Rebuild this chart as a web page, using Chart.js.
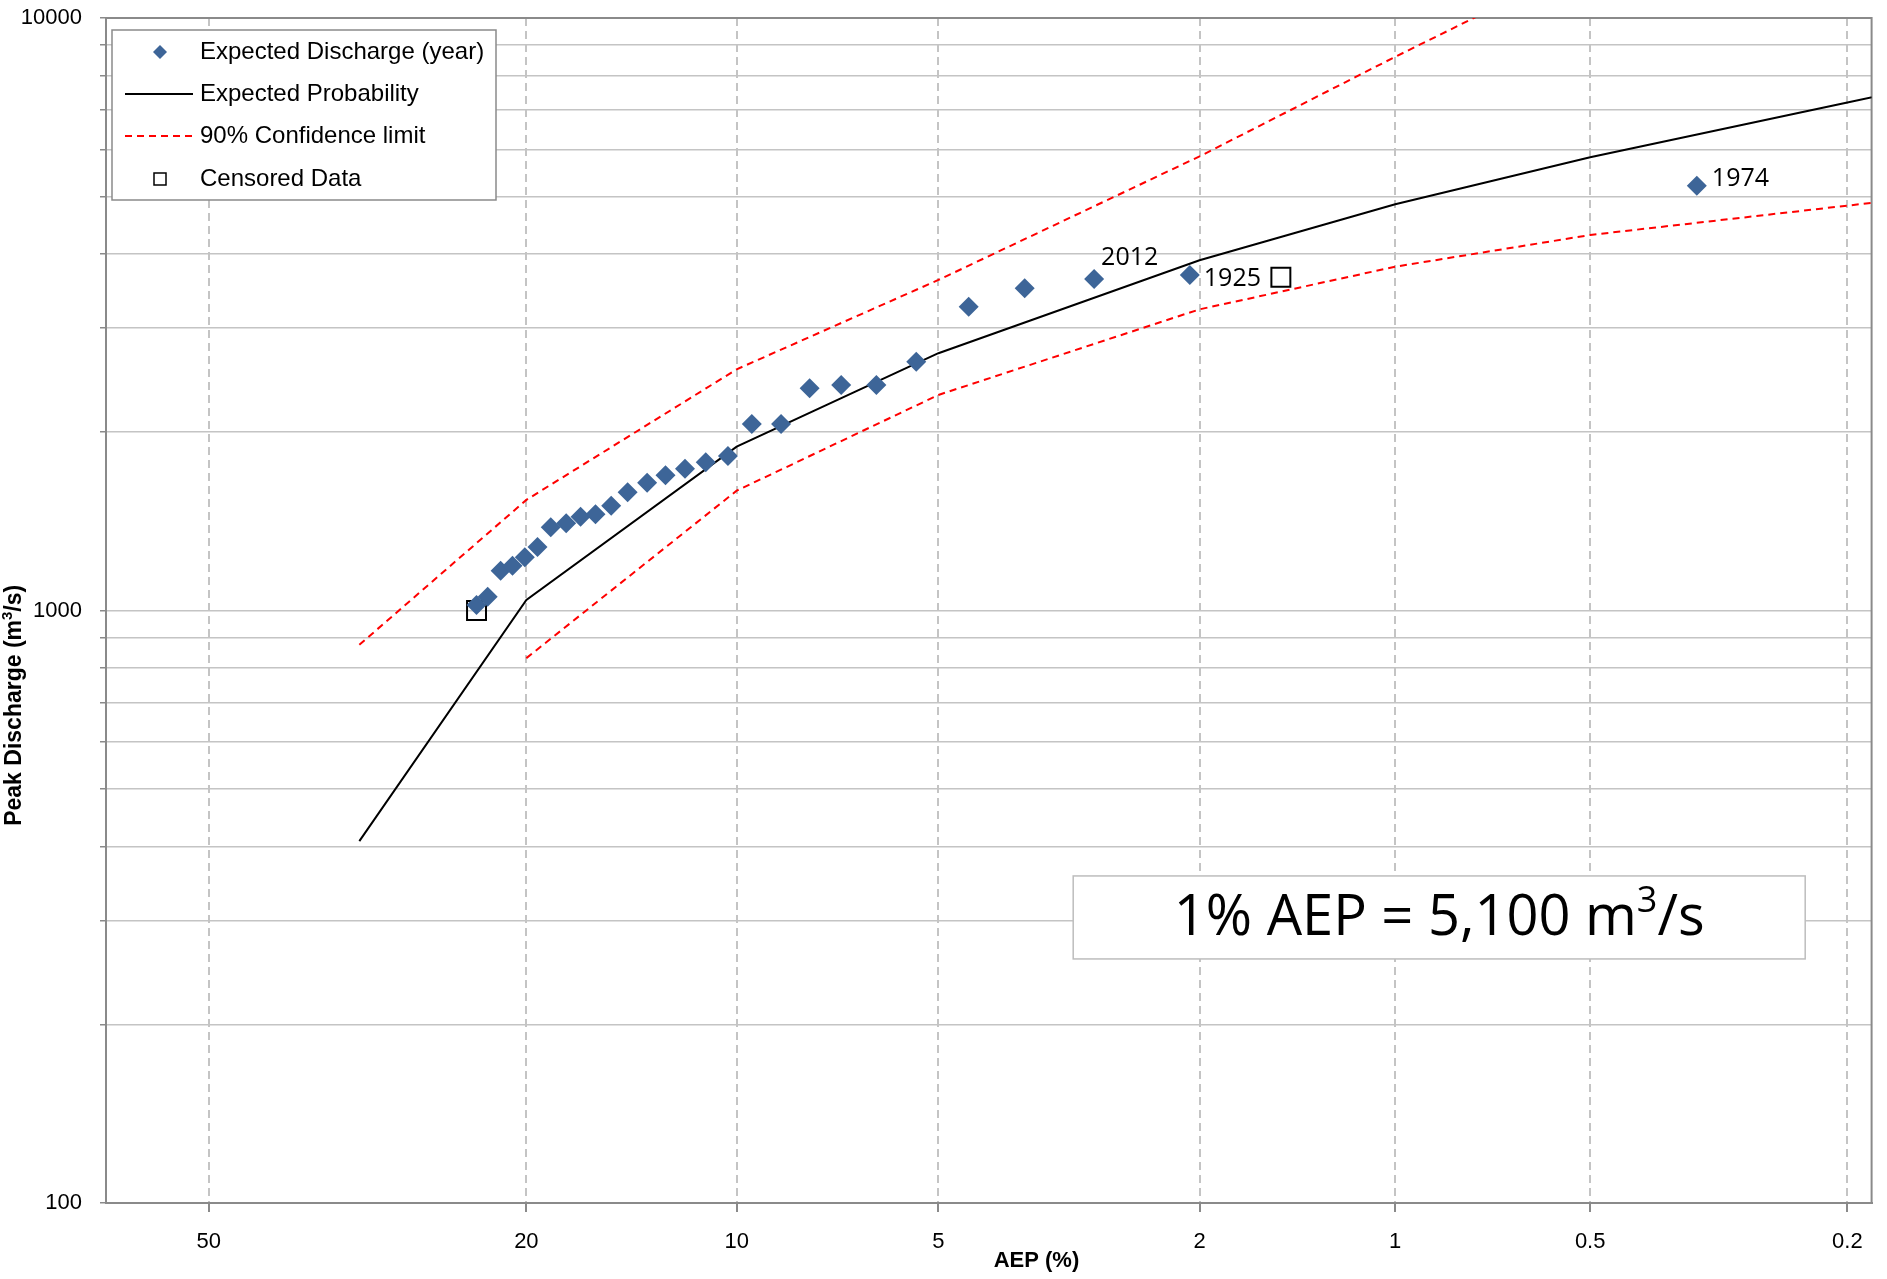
<!DOCTYPE html>
<html lang="en">
<head>
<meta charset="UTF-8">
<title>Flood Frequency Analysis</title>
<script src="https://cdn.jsdelivr.net/npm/chart.js"></script>
<style>
  html, body { margin: 0; padding: 0; background: #fff; }
</style>
</head>
<body>
<canvas id="ffa" width="1887" height="1279"></canvas>
<script>
// --- data (AEP in %, discharge in m3/s) ---
const aepTicks = [50, 20, 10, 5, 2, 1, 0.5, 0.2];
const yGrid = [100, 200, 300, 400, 500, 600, 700, 800, 900,
               1000, 2000, 3000, 4000, 5000, 6000, 7000, 8000, 9000, 10000];
const yLabels = [100, 1000, 10000];

const obsAep = [23.4, 22.6, 21.7, 20.9, 20.1, 19.3, 18.5, 17.6, 16.8, 16.0, 15.2, 14.4, 13.5, 12.7,
                11.9, 11.1, 10.3, 9.5, 8.6, 7.8, 7.0, 6.2, 5.4, 4.5, 3.7, 2.9, 2.07, 0.342];
const obsQ = [1022, 1055, 1167, 1190, 1230, 1280, 1382, 1404, 1440, 1454, 1503, 1583, 1643, 1691,
              1735, 1779, 1823, 2064, 2064, 2371, 2402, 2402, 2630, 3256, 3498, 3627, 3684, 5212];
const yearIdx = [25, 26, 27];
const yearText = ['2012', '1925', '1974'];

const censAep = [23.4, 1.5];
const censQ = [1000, 3650];

const fitAep = [33.3, 20, 10, 5, 2, 1, 0.5, 0.2, 0.1];
const fitQ = [408, 1042, 1890, 2718, 3900, 4850, 5820, 7200, 8450];

const upperAep = [33.3, 20, 10, 5, 2, 1, 0.5];
const upperQ = [875, 1537, 2553, 3613, 5840, 8600, 12500];

const lowerAep = [20, 10, 5, 2, 1, 0.5, 0.2, 0.1];
const lowerQ = [831, 1593, 2311, 3223, 3804, 4303, 4823, 5250];

// Gumbel reduced variate for the probability axis
const gumbel = p => -Math.log(-Math.log(1 - p / 100));
const toPts = (a, q) => a.map((p, i) => ({ x: gumbel(p), y: q[i] }));

const FONT = "'Liberation Sans', Arial, sans-serif";
const CAL = "'Open Sans', sans-serif";
const BLUE = '#3d6598';

function textWithSup(ctx, pre, sup, post, cx, cy, size, weight, family) {
  ctx.font = `${weight} ${size}px ${family}`;
  const w1 = ctx.measureText(pre).width, w3 = ctx.measureText(post).width;
  ctx.font = `${weight} ${Math.round(size * 0.65)}px ${family}`;
  const w2 = ctx.measureText(sup).width;
  let x = cx - (w1 + w2 + w3) / 2;
  ctx.textAlign = 'left';
  ctx.textBaseline = 'middle';
  ctx.font = `${weight} ${size}px ${family}`;
  ctx.fillText(pre, x, cy);
  x += w1;
  ctx.font = `${weight} ${Math.round(size * 0.65)}px ${family}`;
  ctx.fillText(sup, x, cy - size * 0.32);
  x += w2;
  ctx.font = `${weight} ${size}px ${family}`;
  ctx.fillText(post, x, cy);
  return w1 + w2 + w3;
}

const framePlugin = {
  id: 'frame',
  beforeDatasetsDraw(chart) {
    const { ctx, chartArea: a } = chart;
    ctx.save();
    ctx.strokeStyle = '#8a8a8a';
    ctx.lineWidth = 2;
    ctx.strokeRect(a.left, a.top, a.right - a.left, a.bottom - a.top);
    ctx.restore();
  }
};

const decorPlugin = {
  id: 'decor',
  afterDraw(chart) {
    const { ctx, chartArea: a } = chart;
    const W = a.right - a.left, H = a.bottom - a.top;
    ctx.save();
    ctx.fillStyle = '#000';

    // axis titles
    ctx.font = `bold 22px ${FONT}`;
    ctx.textAlign = 'center';
    ctx.textBaseline = 'middle';
    ctx.fillText('AEP (%)', a.left + 0.527 * W, a.bottom + 58);
    ctx.save();
    ctx.translate(15, a.top + 0.58 * H);
    ctx.rotate(-Math.PI / 2);
    textWithSup(ctx, 'Peak Discharge (m', '3', '/s)', 0, 0, 23, 'bold', FONT);
    ctx.restore();

    // year labels next to points
    const meta = chart.getDatasetMeta(0);
    const offs = [[7, -21], [14, 4], [15, -7]];
    ctx.font = `25px ${CAL}`;
    ctx.textAlign = 'left';
    ctx.textBaseline = 'middle';
    yearIdx.forEach((idx, k) => {
      const el = meta.data[idx];
      ctx.fillText(yearText[k], el.x + offs[k][0], el.y + offs[k][1]);
    });

    // legend box
    const lx = a.left + 6, ly = a.top + 12, lw = 384, lh = 170;
    ctx.fillStyle = '#fff';
    ctx.fillRect(lx, ly, lw, lh);
    ctx.strokeStyle = '#8a8a8a';
    ctx.lineWidth = 1.5;
    ctx.strokeRect(lx, ly, lw, lh);
    const mx = lx + 48, tx = lx + 88;
    const rows = [ly + 22, ly + 64, ly + 106, ly + 149];
    const names = chart.data.datasets.filter(d => d.legendName).map(d => d.legendName);
    ctx.fillStyle = '#000';
    ctx.font = `24px ${FONT}`;
    ctx.textBaseline = 'middle';
    names.forEach((n, i) => ctx.fillText(n, tx, rows[i]));
    // markers
    ctx.fillStyle = BLUE;
    ctx.beginPath();
    ctx.moveTo(mx - 7, rows[0]); ctx.lineTo(mx, rows[0] - 7);
    ctx.lineTo(mx + 7, rows[0]); ctx.lineTo(mx, rows[0] + 7);
    ctx.closePath(); ctx.fill();
    ctx.strokeStyle = '#000'; ctx.lineWidth = 2;
    ctx.beginPath(); ctx.moveTo(lx + 13, rows[1]); ctx.lineTo(lx + 81, rows[1]); ctx.stroke();
    ctx.strokeStyle = '#ff0000'; ctx.setLineDash([7, 5]);
    ctx.beginPath(); ctx.moveTo(lx + 13, rows[2]); ctx.lineTo(lx + 81, rows[2]); ctx.stroke();
    ctx.setLineDash([]);
    ctx.strokeStyle = '#000'; ctx.lineWidth = 1.5;
    ctx.strokeRect(mx - 6, rows[3] - 6, 12, 12);

    // annotation box
    const bx = a.left + 0.5478 * W, by = a.top + 0.724 * H, bw = 732, bh = 83;
    ctx.fillStyle = '#fff';
    ctx.fillRect(bx, by, bw, bh);
    ctx.strokeStyle = '#bdbdbd';
    ctx.lineWidth = 1.5;
    ctx.strokeRect(bx, by, bw, bh);
    ctx.fillStyle = '#000';
    ctx.font = `56px ${CAL}`;
    const full = ctx.measureText('1% AEP = 5,100 m/s').width + ctx.measureText('3').width * 0.65;
    const sx = 531 / full;
    ctx.save();
    ctx.translate(bx + bw / 2, by + bh / 2 + 2);
    ctx.scale(sx, 1);
    textWithSup(ctx, '1% AEP = 5,100 m', '3', '/s', 0, 0, 56, 'normal', CAL);
    ctx.restore();

    ctx.restore();
  }
};

new Chart(document.getElementById('ffa'), {
  type: 'scatter',
  data: {
    datasets: [
      {
        legendName: 'Expected Discharge (year)',
        data: toPts(obsAep, obsQ),
        pointStyle: 'rectRot',
        pointRadius: 10,
        backgroundColor: BLUE,
        borderColor: BLUE,
        borderWidth: 0,
        order: 1
      },
      {
        legendName: 'Expected Probability',
        data: toPts(fitAep, fitQ),
        showLine: true,
        pointRadius: 0,
        borderColor: '#000',
        borderWidth: 2,
        order: 3
      },
      {
        legendName: '90% Confidence limit',
        data: toPts(upperAep, upperQ),
        showLine: true,
        pointRadius: 0,
        borderColor: '#ff0000',
        borderWidth: 2,
        borderDash: [7, 5],
        order: 4
      },
      {
        data: toPts(lowerAep, lowerQ),
        showLine: true,
        pointRadius: 0,
        borderColor: '#ff0000',
        borderWidth: 2,
        borderDash: [7, 5],
        order: 4
      },
      {
        legendName: 'Censored Data',
        data: toPts(censAep, censQ),
        pointStyle: 'rect',
        pointRadius: 13.4,
        backgroundColor: 'rgba(0,0,0,0)',
        borderColor: '#000',
        borderWidth: 2,
        order: 2
      }
    ]
  },
  options: {
    responsive: false,
    animation: false,
    layout: { padding: { top: 18, right: 13, left: 0, bottom: 0 } },
    plugins: { legend: { display: false }, tooltip: { enabled: false } },
    scales: {
      x: {
        type: 'linear',
        min: 0,
        max: 6.3,
        afterBuildTicks: s => { s.ticks = aepTicks.map(v => ({ value: gumbel(v) })); },
        afterFit: s => { s.height = 76; s.paddingLeft = 0; s.paddingRight = 0; },
        ticks: {
          callback: (v, i) => String(aepTicks[i]),
          autoSkip: false,
          maxRotation: 0,
          color: '#000',
          font: { family: FONT, size: 22 },
          padding: 17
        },
        grid: { color: '#c4c4c4', lineWidth: 2, tickLength: 9, tickColor: '#8a8a8a', tickWidth: 2 },
        border: { display: true, color: '#8a8a8a', width: 2, dash: [8, 5] }
      },
      y: {
        type: 'logarithmic',
        min: 100,
        max: 10000,
        afterBuildTicks: s => { s.ticks = yGrid.map(v => ({ value: v })); },
        afterFit: s => { s.width = 106; s.paddingTop = 0; s.paddingBottom = 0; },
        ticks: {
          callback: v => yLabels.includes(v) ? String(v) : '',
          autoSkip: false,
          color: '#000',
          font: { family: FONT, size: 22 },
          padding: 18
        },
        grid: { color: '#c4c4c4', lineWidth: 1.5, tickLength: 6, tickColor: '#8a8a8a', tickWidth: 1.5 },
        border: { display: true, color: '#8a8a8a', width: 2 }
      }
    }
  },
  plugins: [framePlugin, decorPlugin]
});
</script>
</body>
</html>
